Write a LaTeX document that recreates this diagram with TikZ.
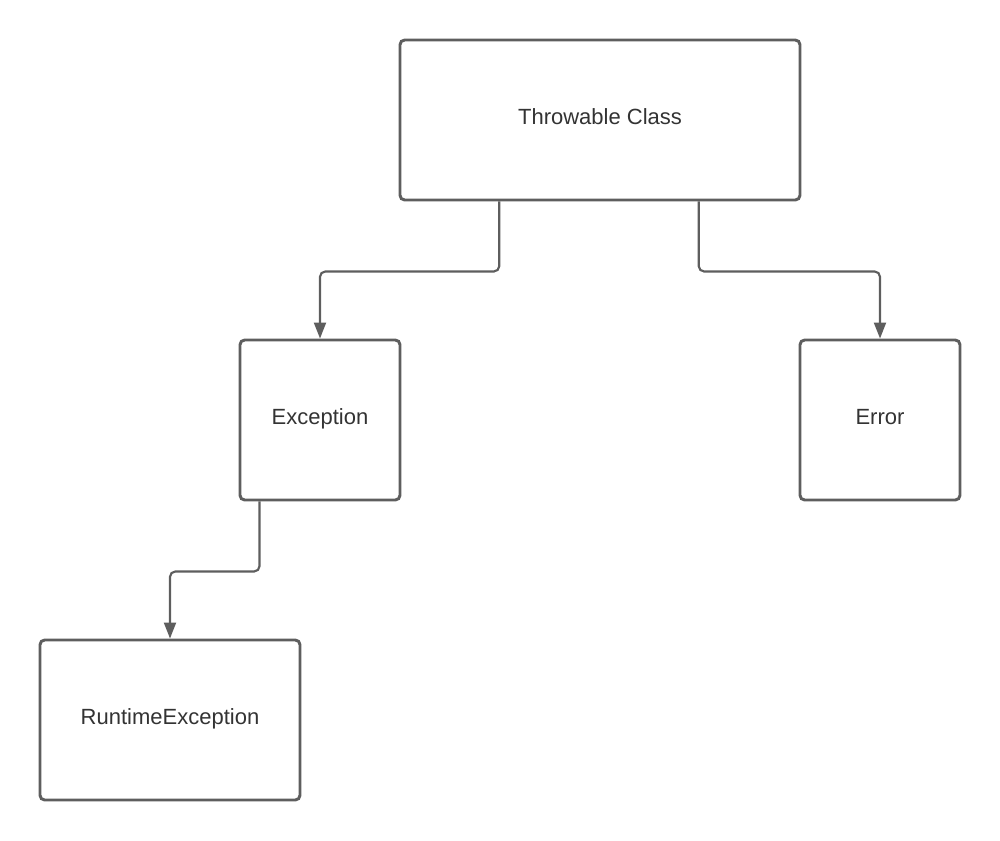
\documentclass[tikz,border=0pt]{standalone}
\usepackage{fontspec}
\setmainfont{Liberation Sans}
\usepackage{tikz}
\usetikzlibrary{arrows.meta, positioning, calc}
\definecolor{linegray}{HTML}{5E5E5E}
\definecolor{textgray}{HTML}{333333}

\begin{document}
\begin{tikzpicture}[
  x=0.75pt, y=-0.75pt,
  cls/.style={rectangle, draw=linegray, line width=2.2pt, rounded corners=3.5pt, fill=white,
              minimum height=120pt, inner sep=0pt, text=textgray,
              text height=11pt, text depth=5pt,
              font=\fontsize{16.5}{20}\selectfont},
  conn/.style={-{Triangle[length=12pt, width=9pt]}, line width=1.6pt, draw=linegray, rounded corners=4pt}
]
\useasboundingbox (0,0) rectangle (1000,840);

\node[cls, minimum width=300pt] (throw) at (600,120) {Throwable Class};
\node[cls, minimum width=120pt] (exc)   at (320,420) {Exception};
\node[cls, minimum width=120pt] (err)   at (880,420) {Error};
\node[cls, minimum width=195pt] (rte)   at (170,720) {RuntimeException};

\draw[conn] ($(throw.south west)!0.25!(throw.south east)$) -- ++(0,70) -| (exc.north);
\draw[conn] ($(throw.south west)!0.745!(throw.south east)$) -- ++(0,70) -| (err.north);
\draw[conn] ($(exc.south west)+(21,0)$) -- ++(0,70) -| (rte.north);
\end{tikzpicture}
\end{document}
